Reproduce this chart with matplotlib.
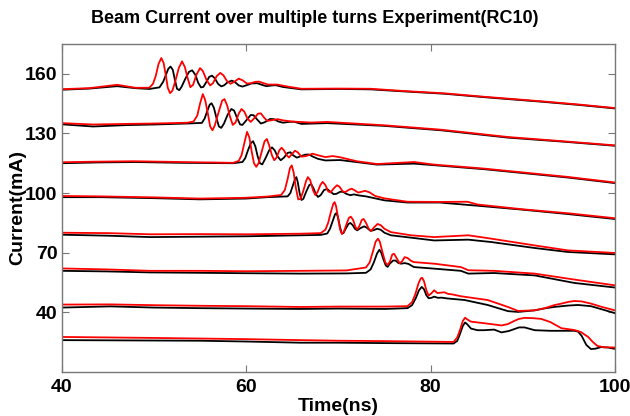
import matplotlib
matplotlib.use("Agg")
import matplotlib.pyplot as plt

# turn 1 (top) - black = measured, red = model
t_k1 = [40, 43, 46, 48, 49.5, 50.6, 51.0, 51.3, 51.55, 51.8, 52.05, 52.25, 52.5, 52.75, 53.0, 53.4, 53.8, 54.15,
        54.5, 54.8, 55.1, 55.35, 55.7, 56.0, 56.3, 56.6, 56.95, 57.3, 57.6, 58.0, 58.45, 58.8, 59.2, 59.6, 60.0,
        60.6, 61.2, 61.7, 62.2, 62.7, 63.2, 64, 66, 70, 73.5, 77, 81.5, 86, 92, 96, 100]
i_k1 = [152.0, 152.6, 153.8, 152.8, 152.4, 153.2, 156, 159.5, 162.5, 163.7, 162, 157.5, 152.5, 151.8, 153.5, 157.5,
        161, 161.8, 159.5, 155.5, 153.2, 153.4, 156, 158.5, 159.1, 157.8, 155, 153.7, 154.2, 155.8, 156.6, 155.8,
        154.2, 153.6, 154.2, 155.2, 155.3, 154.5, 153.8, 154.1, 154.3, 153.4, 152.2, 152.4, 152.2, 151.2, 150,
        148.2, 146, 144.4, 142.6]
t_r1 = [40, 43, 46, 48, 49.5, 49.9, 50.2, 50.5, 50.8, 51.05, 51.3, 51.5, 51.75, 52.0, 52.3, 52.7, 53.05, 53.35,
        53.65, 53.95, 54.25, 54.6, 55.0, 55.3, 55.7, 56.1, 56.4, 56.8, 57.2, 57.55, 57.9, 58.3, 58.7, 59.2, 59.6,
        60.1, 60.5, 61.0, 61.4, 61.9, 62.4, 63.4, 64.5, 66, 70, 73.5, 77, 81.5, 86, 92, 96, 100]
i_r1 = [152.3, 152.8, 154.5, 153, 153, 155, 159, 165, 168, 165.5, 159, 153, 150.3, 151.5, 156, 163, 166.3, 163.5,
        158, 153.3, 154.5, 159.5, 162.9, 161.5, 157, 154.2, 155.3, 158.8, 160.5, 159.2, 156.5, 155, 156, 157.6,
        156.8, 155.1, 155.3, 156, 156.1, 155.3, 154.6, 154.6, 153.6, 152.5, 152.6, 152.5, 151.4, 150.2, 148.4,
        146.2, 144.6, 142.8]

# turn 2
t_k2 = [40, 43.4, 47, 50, 53.6, 55.2, 55.5, 55.8, 56.05, 56.25, 56.5, 56.8, 57.05, 57.3, 57.6, 58.0, 58.4, 58.7,
        59.0, 59.35, 59.6, 60.0, 60.5, 60.8, 61.2, 61.6, 62.0, 62.6, 63.0, 63.5, 64, 64.6, 65.2, 66, 68.8, 75,
        81.1, 88.4, 94, 100]
i_k2 = [134.6, 133.5, 134.2, 134.5, 135, 135.3, 137.5, 141.5, 144.5, 145.2, 143, 137.5, 133.5, 132.8, 135, 139.5,
        142.3, 141.5, 138, 134.5, 134.3, 136.5, 139.3, 139.2, 137, 135, 135.6, 137.3, 137.2, 136, 135.4, 135.8,
        135.9, 134.8, 135.2, 133.8, 131.6, 127.9, 126, 123.8]
t_r2 = [40, 43.4, 47, 50, 53.6, 54.3, 54.7, 55.0, 55.3, 55.55, 55.85, 56.1, 56.35, 56.6, 57.0, 57.4, 57.65, 57.95,
        58.25, 58.55, 58.85, 59.2, 59.5, 59.8, 60.15, 60.5, 60.85, 61.3, 61.6, 61.95, 62.3, 62.8, 63.4, 64.0, 65,
        67, 68.8, 75, 81.1, 88.4, 94, 100]
i_r2 = [135.2, 134.5, 134.8, 135, 135.4, 136, 139, 145, 149.8, 147, 140, 133.5, 131.6, 134, 140.5, 146.5, 147.3,
        144, 138.5, 134.3, 135.5, 140, 142.3, 141, 137.5, 135.8, 137.5, 140, 140.1, 138, 136.3, 136.7, 137.2,
        136.6, 136, 135.5, 135.8, 134.1, 131.9, 128.2, 126.2, 124]

# turn 3
t_k3 = [40, 44, 48, 53, 58.6, 59.6, 59.9, 60.2, 60.5, 60.75, 61.0, 61.25, 61.5, 61.75, 62.1, 62.5, 62.8, 63.1,
        63.4, 63.75, 64.1, 64.5, 64.8, 65.1, 65.5, 65.9, 66.4, 66.8, 67.3, 67.8, 68.6, 70.2, 74.2, 78.2, 80.4,
        85.8, 94.9, 100]
i_k3 = [115, 115.4, 115.6, 115.2, 115, 115.6, 117.5, 121.5, 125, 126.1, 123.5, 118.5, 115, 114.4, 117.5, 121.5,
        123, 121.5, 118.5, 116.5, 117.8, 120.2, 120.5, 119, 117.8, 118.5, 119.3, 119.4, 118.2, 117.2, 116.4,
        116.6, 114.3, 114.8, 114, 112, 107.8, 105]
t_r3 = [40, 44, 47.8, 53, 58.6, 59.2, 59.5, 59.8, 60.1, 60.35, 60.6, 60.85, 61.1, 61.35, 61.7, 62.0, 62.25, 62.5,
        62.8, 63.05, 63.3, 63.6, 63.85, 64.1, 64.4, 64.65, 64.95, 65.3, 65.6, 66.0, 66.5, 67.2, 67.8, 68.6, 69.4,
        70.2, 72, 74.2, 78.2, 80.4, 85.8, 94.9, 100]
i_r3 = [115.5, 115.8, 116, 115.6, 115.2, 116.2, 119, 125, 130.8, 128, 121, 115, 113.2, 115, 121, 126, 127.2, 124,
        119, 116.5, 117.8, 121.5, 122.8, 121.5, 119, 117.9, 119.5, 121.3, 120.5, 118.3, 118.6, 119.8, 119, 118.1,
        118.6, 118, 116, 114.6, 115.6, 114.3, 112.3, 108.1, 105.3]

# turn 4
t_k4 = [40, 44.2, 50, 55, 60, 62.3, 64.5, 64.8, 65.05, 65.3, 65.45, 65.6, 65.8, 66.0, 66.2, 66.5, 66.85, 67.05,
        67.3, 67.55, 67.8, 68.1, 68.45, 68.8, 69.1, 69.5, 69.8, 70.2, 70.5, 70.9, 71.3, 71.7, 72.2, 73.0, 75,
        77.5, 81, 85.1, 90, 94.9, 100]
i_k4 = [97.9, 97.9, 97.4, 96.8, 97.2, 97.9, 98.3, 100, 103.5, 107, 108, 105.5, 100, 96.5, 97, 100.5, 104, 104.5,
        102.5, 99.5, 98, 99, 101.5, 102, 100.8, 99.4, 99.6, 100.6, 100.6, 99.5, 98.9, 99.3, 98.8, 98.3, 96.3,
        95.2, 95.2, 93.6, 91.6, 89.4, 86.9]
t_r4 = [40, 44.2, 50, 55, 60, 62.3, 63.8, 64.2, 64.5, 64.75, 64.95, 65.15, 65.4, 65.65, 65.9, 66.2, 66.5, 66.7,
        66.95, 67.25, 67.5, 67.75, 68.05, 68.3, 68.6, 68.9, 69.15, 69.5, 69.85, 70.1, 70.45, 70.75, 71.1, 71.45,
        71.8, 72.15, 72.5, 72.9, 73.4, 74, 75, 77.5, 81, 84, 85.1, 90, 94.9, 100]
i_r4 = [98.5, 98.3, 97.8, 97.2, 97.6, 98.2, 99, 101.5, 107, 112.5, 113.9, 110.5, 102.5, 96.8, 97, 101, 106, 108,
        106.5, 101.5, 99, 100.5, 104, 105.6, 104, 100.8, 100.3, 102.3, 103.9, 103.3, 101, 100.4, 101.5, 102.2,
        101.3, 100.2, 100.6, 101.1, 100.3, 98.5, 97.3, 95.6, 95.5, 95.6, 94.2, 91.8, 89.8, 87.3]

# turn 5
t_k5 = [40, 45, 49.6, 55, 60, 65.9, 68.1, 68.8, 69.1, 69.4, 69.65, 69.8, 69.95, 70.15, 70.35, 70.55, 70.8, 71.1,
        71.3, 71.55, 71.8, 72.05, 72.4, 72.8, 73.1, 73.5, 73.85, 74.2, 74.6, 75.0, 75.7, 77.9, 80.4, 84.1, 86.6,
        91.3, 94.9, 100]
i_k5 = [79, 78.5, 77.8, 78, 78.2, 78.7, 78.9, 79.6, 82, 86, 89.3, 89.9, 88, 83.5, 80, 79.8, 82, 84.4, 84.9, 83.9,
        82, 81.2, 82.3, 83.2, 82.5, 80.9, 81.3, 82, 81.5, 80, 78.7, 77.5, 76.1, 76.5, 75.3, 72.3, 70.3, 69.1]
t_r5 = [40, 45, 49.6, 55, 60, 65.9, 68.1, 68.6, 68.9, 69.2, 69.45, 69.6, 69.75, 70.0, 70.2, 70.4, 70.6, 70.9,
        71.15, 71.35, 71.6, 71.85, 72.05, 72.3, 72.55, 72.75, 73.0, 73.3, 73.55, 73.9, 74.25, 74.6, 75.0, 75.7,
        77.9, 80.4, 84.1, 86.6, 91.3, 94.9, 100]
i_r5 = [80, 79.8, 79.2, 79.3, 79.2, 79.5, 79.8, 81.5, 85, 90.5, 94.5, 95.4, 93.5, 87, 81.5, 79.3, 80.5, 84.5, 87.5,
        88.1, 86.5, 83, 81.6, 83.5, 86.5, 86.9, 85, 82, 80.9, 82.8, 84.4, 83.8, 82, 80.3, 78.7, 77.8, 78.7, 77,
        73.6, 71.1, 69.8]

# turn 6
t_k6 = [40, 45, 49.6, 55, 60, 65.9, 70.9, 73.0, 73.5, 73.85, 74.2, 74.45, 74.65, 74.9, 75.15, 75.35, 75.6, 75.95,
        76.2, 76.5, 76.8, 77.2, 77.6, 78.2, 80.4, 83.3, 84.1, 86.9, 91.3, 95.6, 100]
i_k6 = [60.8, 60.5, 60, 59.8, 59.6, 59.4, 59.5, 59.8, 61.5, 65, 69.5, 71.4, 70, 66.5, 63.5, 62.8, 64.5, 66, 66,
        64.8, 64.4, 64.7, 64.3, 62.7, 61.9, 60.8, 59.4, 59.7, 58.5, 54.7, 52.4]
t_r6 = [40, 45, 49.6, 55, 60, 65.9, 70.9, 73.0, 73.4, 73.75, 74.05, 74.3, 74.5, 74.8, 75.1, 75.35, 75.6, 75.85,
        76.05, 76.35, 76.65, 76.9, 77.2, 77.5, 77.9, 78.2, 80.4, 83.3, 84.1, 86.9, 91.3, 95.6, 100]
i_r6 = [62, 61.5, 60.8, 60.8, 60.6, 60.8, 61, 62.5, 65, 70.5, 75.5, 77, 75.5, 70, 65, 63.7, 65.5, 69, 69.4, 67,
        64.6, 65.5, 67.7, 67.3, 65.8, 65.2, 64.4, 62.7, 61.1, 60.8, 59.4, 56.4, 53.5]

# turn 7
t_k7 = [40, 45.3, 50, 55, 60, 65.9, 70, 75, 77.5, 78.0, 78.4, 78.75, 79.05, 79.3, 79.55, 79.8, 80.1, 80.4, 80.8,
        81.2, 81.8, 83.7, 86.2, 88.4, 89.5, 91.3, 92.4, 93.4, 94.9, 96.0, 97.4, 98.6, 100]
i_k7 = [42.3, 42.9, 42.3, 42, 41.8, 41.6, 41.8, 41.6, 42, 43.5, 47, 51, 52.7, 51.5, 48.5, 47, 47.2, 47.8, 47.2,
        47.3, 46.9, 46.1, 43.6, 40.5, 40.1, 40.9, 41.9, 42.6, 43.3, 43.6, 43, 41.4, 39.5]
t_r7 = [40, 45.3, 50, 55, 60, 65.9, 70, 75, 77.5, 78.0, 78.35, 78.7, 78.95, 79.1, 79.3, 79.55, 79.8, 80.1, 80.4,
        80.75, 81.1, 81.5, 81.9, 82.4, 83.3, 86.2, 88.4, 89.5, 91.3, 92.4, 93.4, 94.2, 95.0, 95.6, 96.4, 97.4,
        98.6, 100]
i_r7 = [43.8, 43.9, 43.5, 43.2, 43, 42.6, 42.8, 42.8, 43, 45, 49, 54.5, 57, 57.3, 55.5, 51, 48.3, 49.5, 51, 49.6,
        49.8, 50, 49.2, 48.9, 48, 46.1, 42.6, 40.6, 40.9, 42, 43.5, 44.3, 45.2, 45.6, 45.4, 44.3, 42.6, 40.9]

# turn 8 (bottom)
t_k8 = [40, 50, 55, 60, 65.9, 70, 75, 82.5, 82.9, 83.2, 83.5, 83.75, 84.0, 84.4, 85.1, 85.8, 86.9, 87.7, 88.5,
        89.6, 90.2, 91.3, 93, 95.6, 96.0, 96.4, 96.9, 97.4, 97.9, 98.5, 99.2, 100]
i_k8 = [25.9, 25.7, 25.6, 25.2, 24.6, 24.6, 24.4, 24.2, 25.5, 29, 33, 34.8, 33.8, 31.7, 30.9, 30.9, 31.2, 29.8,
        30.5, 32.3, 32.3, 30.9, 30.6, 30.6, 30.2, 28, 23.5, 21.4, 21.6, 22.4, 22.2, 21.5]
t_r8 = [40, 50, 55, 60, 65.9, 70, 75, 82.5, 82.9, 83.2, 83.5, 83.75, 84.0, 84.4, 86.2, 87.7, 88.4, 89.1, 89.6,
        90.2, 91.0, 92.0, 93, 94.2, 95.6, 96.3, 97.1, 97.6, 98.1, 98.8, 100]
i_r8 = [27.5, 27, 26.7, 26.4, 25.9, 25.6, 25.4, 25.0, 27.2, 31, 35.5, 37.2, 36.3, 35.2, 34.2, 33.3, 34, 35.6,
        36.6, 37.1, 37, 36.6, 35, 31.9, 31, 30, 27.5, 25, 23, 22.3, 22.2]

x_ticks = [40, 60, 80, 100]
y_ticks = [40, 70, 100, 130, 160]

black_runs = [(t_k1, i_k1), (t_k2, i_k2), (t_k3, i_k3), (t_k4, i_k4),
              (t_k5, i_k5), (t_k6, i_k6), (t_k7, i_k7), (t_k8, i_k8)]
red_runs = [(t_r1, i_r1), (t_r2, i_r2), (t_r3, i_r3), (t_r4, i_r4),
            (t_r5, i_r5), (t_r6, i_r6), (t_r7, i_r7), (t_r8, i_r8)]

plt.rcParams['font.family'] = ['Liberation Sans', 'DejaVu Sans']

fig = plt.figure(figsize=(6.3, 4.16), dpi=100)
ax = fig.add_axes([0.098, 0.1065, 0.878, 0.7875])

for t, i in black_runs:
    ax.plot(t, i, color='black', lw=1.3, solid_joinstyle='round')
for t, i in red_runs:
    ax.plot(t, i, color='red', lw=1.3, solid_joinstyle='round')

ax.set_xlim(40, 100)
ax.set_ylim(10, 175)
ax.set_xticks(x_ticks)
ax.set_yticks(y_ticks)
ax.tick_params(direction='in', length=5, color='#777777', top=True, right=True,
               labelsize=14)
ax.tick_params(axis='y', pad=3)
ax.tick_params(axis='x', pad=5)
for lab in ax.get_xticklabels() + ax.get_yticklabels():
    lab.set_fontweight('bold')
for sp in ax.spines.values():
    sp.set_color('#777777')
    sp.set_linewidth(1.0)

ax.set_xlabel('Time(ns)', fontsize=14, fontweight='bold', labelpad=2)
ax.set_ylabel('Current(mA)', fontsize=14, fontweight='bold', labelpad=-1)
fig.text(0.5, 0.955, 'Beam Current over multiple turns Experiment(RC10)',
         ha='center', va='center', fontsize=13, fontweight='bold')

fig.savefig('out.png', dpi=100)
